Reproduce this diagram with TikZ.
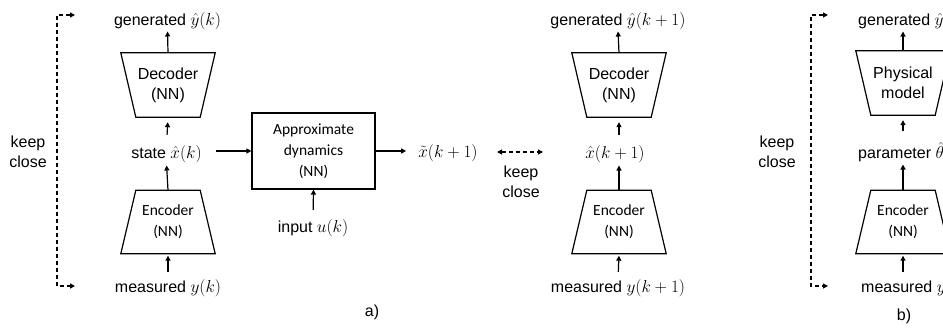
\documentclass[tikz,border=0pt]{standalone}
\usepackage{fontspec}
\setmainfont{Liberation Sans}
\newfontfamily\calfont{Carlito}
\usetikzlibrary{arrows.meta}

% math set a little larger than the surrounding sans text
\newcommand{\mth}[1]{{\fontsize{17.5}{18}\selectfont$#1$}}

\tikzset{
  lbl/.style={font=\fontsize{16}{18}\selectfont, inner sep=0pt, anchor=base},
  lblw/.style={lbl, anchor=base west},
  nnbox/.style={font=\fontsize{16}{20}\selectfont, align=center, inner sep=0pt,
                minimum width=94pt, minimum height=64pt},
  calbox/.style={font=\calfont\fontsize{15.5}{21}\selectfont, align=center, inner sep=0pt},
  encbox/.style={calbox, minimum width=94pt, minimum height=63pt},
  outline/.style={line width=1.2pt, line join=miter},
  arr/.style={line width=1.2pt, -{Triangle[length=5pt,width=5pt]}},
  keepline/.style={line width=1.2pt, dash pattern=on 4pt off 3pt,
                   {Triangle[length=5pt,width=5pt]}-{Triangle[length=5pt,width=5pt]}},
  note/.style={font=\fontsize{16}{20}\selectfont, align=center, inner sep=0pt},
}

% trapezoid with the wide side on top (decoder / physical model)
\newcommand{\wideTop}[2]{%
  \draw[outline] ([xshift=#2]#1.south west) -- (#1.north west) -- (#1.north east)
    -- ([xshift=-#2]#1.south east) -- cycle;}
% trapezoid with the wide side at the bottom (encoder)
\newcommand{\wideBottom}[2]{%
  \draw[outline] (#1.south west) -- ([xshift=#2]#1.north west) -- ([xshift=-#2]#1.north east)
    -- (#1.south east) -- cycle;}

\begin{document}
\begin{tikzpicture}[x=1pt, y=-1pt]
\useasboundingbox (0,0) rectangle (943,328);
\clip (0,0) rectangle (943,328);

% ---------- a) first time step ----------
\node[lbl] (gen1) at (167.5,26) {generated \mth{\hat{y}(k)}};
\node[nnbox] (dec1) at (168,85) {Decoder\\(NN)};
\wideTop{dec1}{15pt}
\node[lbl] (state1) at (166.5,159) {state \mth{\hat{x}(k)}};
\node[encbox] (enc1) at (168,222) {Encoder\\(NN)};
\wideBottom{enc1}{15pt}
\node[lbl] (meas1) at (168,293) {measured \mth{y(k)}};

\draw[arr, shorten >=1pt] (dec1.north) -- (gen1.south);
\draw[arr, shorten <=11pt, shorten >=5pt] (state1.north) -- (dec1.south);
\draw[arr, shorten >=2pt] (enc1.north) -- (state1.south);
\draw[arr, shorten <=8pt, shorten >=2pt] (meas1.north) -- (enc1.south);

% approximate dynamics block
\node[calbox, draw, line width=1.2pt, minimum width=123pt, minimum height=76pt]
  (approx) at (313.5,151) {Approximate\\dynamics\\(NN)};
\node[lbl] (input) at (313,233) {input \mth{u(k)}};
\node[lbl] (xt) at (448,158) {\mth{\tilde{x}(k+1)}};

\draw[arr, shorten <=14pt] (approx.west -| state1.east) -- (approx.west);
\draw[arr, shorten >=12pt] (approx.east) -- (approx.east -| xt.west);
\draw[arr, shorten <=10pt] (input.north) -- (approx.south);

% keep close between predicted and encoded state
\coordinate (kcl) at (497,152);
\coordinate (kcr) at (543,152);
\draw[keepline] (kcl) -- (kcr);
\node[note] (kc2) at (521,182) {keep\\close};

% ---------- a) next time step ----------
\node[lbl] (gen2) at (618,26) {generated \mth{\hat{y}(k+1)}};
\node[nnbox] (dec2) at (619,85) {Decoder\\(NN)};
\wideTop{dec2}{15pt}
\node[lbl] (xh2) at (615,159) {\mth{\hat{x}(k+1)}};
\node[encbox] (enc2) at (619,222) {Encoder\\(NN)};
\wideBottom{enc2}{15pt}
\node[lbl] (meas2) at (618,293) {measured \mth{y(k+1)}};

\draw[arr, shorten >=1pt] (dec2.north) -- (gen2.south);
\draw[arr, shorten <=11pt, shorten >=5pt] (dec2.south |- xh2.north) -- (dec2.south);
\draw[arr, shorten >=2pt] (enc2.north) -- (enc2.north |- xh2.south);
\draw[arr, shorten <=8pt, shorten >=2pt] (meas2.north) -- (enc2.south);

% keep close bracket (left)
\coordinate (b1t) at (75,15);
\coordinate (b1b) at (75,286);
\draw[keepline] (b1t) -- (57,15) -- (57,286) -- (b1b);
\node[note] (kc1) at (28,152) {keep\\close};

\node[lbl] (cap-a) at (372,317) {a)};

% ---------- b) physical model ----------
\coordinate (b2t) at (828,15);
\coordinate (b2b) at (828,286);
\draw[keepline] (b2t) -- (811,15) -- (811,286) -- (b2b);
\node[note] (kc3) at (777,152) {keep\\close};

\node[lblw] (gen3) at (858,26) {generated \mth{\hat{y}(k)}};
\node[nnbox] (phys) at (903,83) {Physical\\model};
\wideTop{phys}{15pt}
\node[lblw] (param) at (858,159) {parameter \mth{\hat{\theta}}};
\node[encbox] (enc3) at (903,222) {Encoder\\(NN)};
\wideBottom{enc3}{15pt}
\node[lblw] (meas3) at (861,293) {measured \mth{y(k)}};

\draw[arr, shorten >=1pt] (phys.north) -- (phys.north |- gen3.south);
\draw[arr, shorten <=11pt, shorten >=5pt] (phys.south |- param.north) -- (phys.south);
\draw[arr, shorten >=2pt] (enc3.north) -- (enc3.north |- param.south);
\draw[arr, shorten <=8pt, shorten >=2pt] (enc3.south |- meas3.north) -- (enc3.south);

\node[lbl] (cap-b) at (904,321) {b)};
\end{tikzpicture}
\end{document}
